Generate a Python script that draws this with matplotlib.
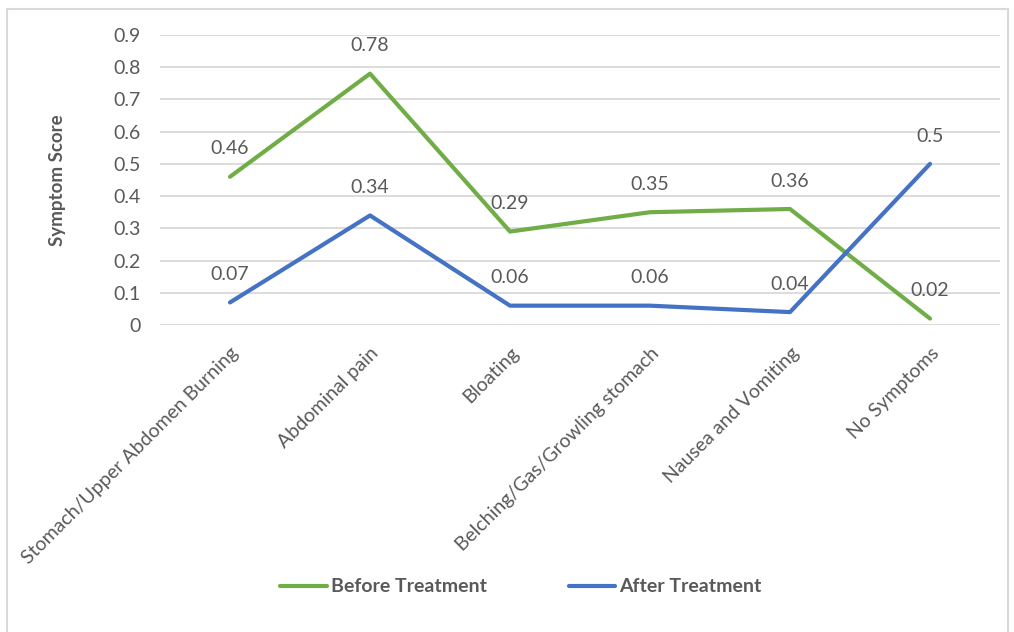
import matplotlib.pyplot as plt
from matplotlib.patches import Rectangle

plt.rcParams['font.family'] = ['Lato', 'DejaVu Sans']

categories = ["Stomach/Upper Abdomen Burning", "Abdominal pain", "Bloating",
              "Belching/Gas/Growling stomach", "Nausea and Vomiting", "No Symptoms"]
before = [0.46, 0.78, 0.29, 0.35, 0.36, 0.02]
after = [0.07, 0.34, 0.06, 0.06, 0.04, 0.5]
yticks = [0, 0.1, 0.2, 0.3, 0.4, 0.5, 0.6, 0.7, 0.8, 0.9]
ytick_labels = ["0", "0.1", "0.2", "0.3", "0.4", "0.5", "0.6", "0.7", "0.8", "0.9"]

green = "#70AD47"
blue = "#4472C4"
txt = "#595959"

fig = plt.figure(figsize=(10.14, 6.32), dpi=100)
ax = fig.add_axes([160 / 1014, 1 - 325 / 632, 840 / 1014, 290 / 632])

# outer chart border
fig.patches.append(Rectangle((7 / 1014, -0.01), 1001 / 1014, 1 - 9 / 632 + 0.01,
                             transform=fig.transFigure, fill=False,
                             edgecolor="#D9D9D9", lw=1.5))

x = list(range(len(categories)))
ax.plot(x, before, color=green, lw=3, label="Before Treatment", solid_capstyle="round")
ax.plot(x, after, color=blue, lw=3, label="After Treatment", solid_capstyle="round")

for xi, v in zip(x, before):
    ax.annotate(f"{v:g}", (xi, v), xytext=(0, 20), textcoords="offset points",
                ha="center", va="center", fontsize=14, color=txt)
for xi, v in zip(x, after):
    ax.annotate(f"{v:g}", (xi, v), xytext=(0, 20), textcoords="offset points",
                ha="center", va="center", fontsize=14, color=txt)

ax.set_xlim(-0.5, 5.5)
ax.set_ylim(0, 0.9)
ax.set_yticks(yticks)
ax.set_yticklabels(ytick_labels)
ax.set_xticks(x)
ax.set_xticklabels(categories, rotation=45, ha="right", rotation_mode="anchor")
ax.tick_params(axis="both", length=0, labelsize=14, labelcolor=txt)
ax.tick_params(axis="y", pad=14)
ax.tick_params(axis="x", pad=14)
ax.grid(axis="y", color="#D9D9D9", lw=1.3)
ax.set_axisbelow(True)
for s in ax.spines.values():
    s.set_visible(False)

ax.set_ylabel("Symptom Score", fontsize=13.5, fontweight="bold", color=txt)
ax.yaxis.set_label_coords(-94 / 840, 0.5)

fig.legend(loc="center", bbox_to_anchor=(521 / 1014, 1 - 587 / 632), ncol=2,
           frameon=False, handlelength=2.4, handletextpad=0.2, columnspacing=4.2,
           prop={"weight": "bold", "size": 14}, labelcolor=txt)

fig.savefig("out.png", dpi=100)
